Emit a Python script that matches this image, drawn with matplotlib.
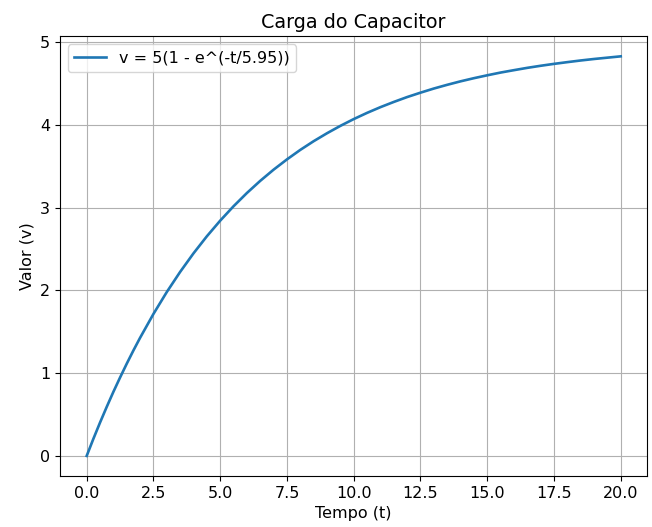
import matplotlib
matplotlib.use("Agg")
import matplotlib.pyplot as plt

# valores
tempo = [0, 0.25, 0.5, 0.75, 1, 1.25, 1.5, 1.75, 2, 2.5, 3, 3.5, 4, 4.5, 5,
         5.5, 6, 6.5, 7, 7.5, 8, 8.5, 9, 9.5, 10, 10.5, 11, 11.5, 12, 12.5,
         13, 13.5, 14, 14.5, 15, 15.5, 16, 16.5, 17, 17.5, 18, 18.5, 19,
         19.5, 20]
valor = [0.0, 0.206, 0.403, 0.592, 0.774, 0.947, 1.114, 1.274, 1.427, 1.715,
         1.980, 2.223, 2.447, 2.653, 2.842, 3.016, 3.176, 3.323, 3.458, 3.582,
         3.697, 3.802, 3.898, 3.987, 4.069, 4.144, 4.213, 4.276, 4.335, 4.388,
         4.438, 4.483, 4.525, 4.563, 4.598, 4.631, 4.660, 4.688, 4.713, 4.736,
         4.757, 4.777, 4.795, 4.811, 4.827]
rotulo = "v = 5(1 - e^(-t/5.95))"

plt.rcParams["font.size"] = 11.5
fig, ax = plt.subplots(figsize=(6.52, 5.27), dpi=100)
ax.plot(tempo, valor, label=rotulo, linewidth=1.9)
ax.set_title("Carga do Capacitor")
ax.set_xlabel("Tempo (t)")
ax.set_ylabel("Valor (v)")
ax.grid(True)
ax.legend(loc="upper left")
plt.subplots_adjust(left=0.092, right=0.993, top=0.931, bottom=0.097)
plt.savefig("out.png", dpi=100)
